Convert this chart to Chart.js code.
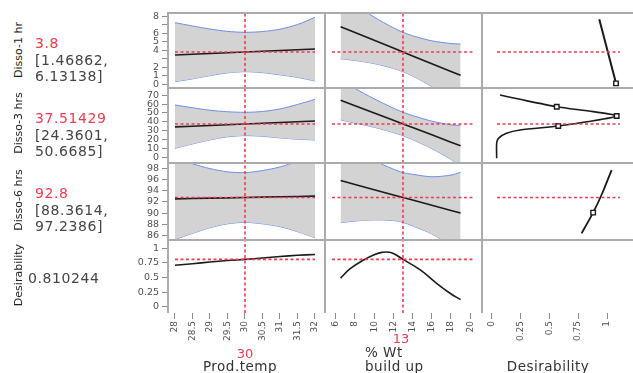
<!DOCTYPE html>
<html><head><meta charset="utf-8">
<script src="https://cdn.jsdelivr.net/npm/chart.js@4.4.1/dist/chart.umd.min.js"></script>
<style>
html,body{margin:0;padding:0;background:#fff;}
#wrap{position:relative;width:633px;height:373px;overflow:hidden;font-family:"DejaVu Sans",sans-serif;background:#fff;}
#wrap canvas{position:absolute;}
.t{position:absolute;white-space:nowrap;line-height:1;}
</style></head><body><div id="wrap"></div>
<script>
// ---------------- data ----------------
const CUR_TEMP = 30;
const CUR_WT = 13;
const CUR_D1 = 3.8;
const CUR_D3 = 37.51429;
const CUR_D6 = 92.8;
const CUR_DES = 0.810244;

const TEMP_X = [28, 28.5, 29, 29.5, 30, 30.5, 31, 31.5, 32];
const D1_TEMP_PRED = [3.45, 3.54, 3.62, 3.71, 3.80, 3.89, 3.97, 4.06, 4.15];
const D1_TEMP_UP   = [7.27, 6.88, 6.52, 6.24, 6.13, 6.22, 6.50, 7.05, 7.90];
const D1_TEMP_LO   = [0.28, 0.62, 1.00, 1.33, 1.47, 1.36, 1.10, 0.80, 0.37];
const D3_TEMP_PRED = [34.2, 35.0, 35.8, 36.7, 37.51, 38.3, 39.1, 40.0, 40.8];
const D3_TEMP_UP   = [58.9, 55.8, 53.0, 51.3, 50.67, 51.6, 54.5, 59.5, 65.3];
const D3_TEMP_LO   = [10.0, 15.0, 19.5, 23.0, 24.36, 23.6, 21.8, 20.3, 19.4];
const D6_TEMP_PRED = [92.55, 92.61, 92.68, 92.74, 92.8, 92.86, 92.93, 92.99, 93.05];
const D6_TEMP_UP   = [99.8, 98.82, 97.96, 97.38, 97.24, 97.62, 98.26, 99.28, 100.5];
const D6_TEMP_LO   = [85.3, 86.4, 87.4, 88.1, 88.36, 88.1, 87.6, 86.7, 85.6];
const DES_TEMP     = [0.71, 0.735, 0.765, 0.79, 0.81, 0.835, 0.86, 0.88, 0.895];

const WT_X = [6.5, 8, 10, 12, 13, 14, 16, 18, 19];
const D1_WT_PRED = [6.8, 6.1, 5.18, 4.26, 3.8, 3.34, 2.42, 1.5, 1.04];
const D1_WT_UP   = [10.6, 9.4, 7.93, 6.66, 6.13, 5.72, 5.12, 4.8, 4.74];
const D1_WT_LO   = [3.0, 2.8, 2.43, 1.86, 1.47, 0.96, -0.28, -1.8, -2.66];
const D3_WT_PRED = [64.2, 58.0, 49.8, 41.6, 37.51, 33.4, 25.2, 17.0, 12.9];
const D3_WT_UP   = [86.2, 77.5, 65.8, 55.4, 50.67, 47.0, 40.7, 36.5, 35.9];
const D3_WT_LO   = [42.2, 38.5, 33.8, 27.8, 24.36, 19.8, 9.7, -2.5, -10.1];
const D6_WT_PRED = [95.82, 95.12, 94.19, 93.26, 92.8, 92.34, 91.41, 90.48, 90.02];
const D6_WT_UP   = [103.3, 101.4, 99.4, 97.86, 97.24, 96.94, 96.5, 96.8, 97.3];
const D6_WT_LO   = [88.3, 88.6, 88.8, 88.7, 88.36, 87.74, 86.3, 84.2, 82.7];
const DES_WT_X   = [6.5, 7.5, 8.9, 10, 10.8, 11.8, 13, 14.8, 16.5, 17.9, 19];
const DES_WT     = [0.49, 0.65, 0.80, 0.89, 0.93, 0.925, 0.81, 0.63, 0.40, 0.23, 0.12];

// desirability functions (x = desirability, y = response)
const DF1_D = [0.933, 1.078];
const DF1_Y = [7.67, 0.09];
const DF1_HD = [1.078];
const DF1_HY = [0.09];
const DF3_D = [0.074, 0.247, 0.565, 0.88, 1.084, 0.824, 0.578, 0.247, 0.13, 0.06, 0.045, 0.045];
const DF3_Y = [70.2, 65.3, 57, 51.4, 46.5, 40, 35.2, 30.7, 27, 21.3, 15.7, -1.2];
const DF3_HD = [0.565, 1.084, 0.578];
const DF3_HY = [57, 46.5, 35.2];
const DF6_D = [0.78, 0.88, 0.96, 1.04];
const DF6_Y = [86.4, 90.1, 93.6, 97.7];
const DF6_HD = [0.88];
const DF6_HY = [90.1];

// reference-line extents
const TEMP_LINE_X = [28, 32];
const WT_LINE_X = [5.6, 20.3];
const DES_LINE_X = [0.048, 1.112];

// tick values / labels
const X1_TICKS = [28, 28.5, 29, 29.5, 30, 30.5, 31, 31.5, 32];
const X1_LABELS = ['28', '28.5', '29', '29.5', '30', '30.5', '31', '31.5', '32'];
const X2_TICKS = [6, 8, 10, 12, 14, 16, 18, 20];
const X2_LABELS = ['6', '8', '10', '12', '14', '16', '18', '20'];
const X3_TICKS = [0, 0.25, 0.5, 0.75, 1];
const X3_LABELS = ['0', '0.25', '0.5', '0.75', '1'];
const Y1_TICKS = [0, 1, 2, 3, 4, 5, 6, 7, 8];
const Y1_LABELS = ['0', '1', '2', '', '4', '5', '6', '', '8'];
const Y2_TICKS = [0, 10, 20, 30, 40, 50, 60, 70];
const Y2_LABELS = ['0', '10', '20', '30', '40', '50', '60', '70'];
const Y3_TICKS = [86, 88, 90, 92, 94, 96, 98];
const Y3_LABELS = ['86', '88', '90', '92', '94', '96', '98'];
const Y4_TICKS = [0, 0.25, 0.5, 0.75, 1];
const Y4_LABELS = ['0', '0.25', '0.5', '0.75', '1'];

const ROW_NAMES = ['Disso-1 hr', 'Disso-3 hrs', 'Disso-6 hrs', 'Desirability'];
const FACTOR_NAMES = ['Prod.temp', '% Wt', 'Desirability'];

// ---------------- layout / style ----------------
const COLS = [168, 325, 482, 633];
const ROWS = [13, 88, 163, 240, 313];
const PAD = 8, YW = 48, XH = 34;
const RED = '#ef3b52';
const GRAYBAND = '#d3d3d3';
const BLUE = '#6b8ee6';
const FRAME = '#ababab';
const TICKCOL = '#505050';

const AX = {
  x1: {min: 27.8, max: 32.286, ticks: X1_TICKS, labels: X1_LABELS},
  x2: {min: 4.875, max: 21.23, ticks: X2_TICKS, labels: X2_LABELS},
  x3: {min: -0.082, max: 1.225, ticks: X3_TICKS, labels: X3_LABELS},
  y1: {min: -0.46, max: 8.414, ticks: Y1_TICKS, labels: Y1_LABELS},
  y2: {min: -6.55, max: 78.1, ticks: Y2_TICKS, labels: Y2_LABELS},
  y3: {min: 85.21, max: 98.96, ticks: Y3_TICKS, labels: Y3_LABELS},
  y4: {min: -0.108, max: 1.142, ticks: Y4_TICKS, labels: Y4_LABELS}
};

Chart.defaults.font.family = '"DejaVu Sans", sans-serif';

const zip = (xs, ys) => xs.map((x, i) => ({x, y: ys[i]}));

const borderPlugin = {
  id: 'cellBorder',
  afterDraw(chart) {
    const {ctx, chartArea: a} = chart;
    ctx.save();
    ctx.strokeStyle = FRAME;
    ctx.lineWidth = 2;
    ctx.beginPath();
    ctx.moveTo(a.left - 1, a.top);
    ctx.lineTo(a.right + 1, a.top);
    ctx.moveTo(a.left, a.top);
    ctx.lineTo(a.left, a.bottom);
    ctx.stroke();
    ctx.restore();
  }
};

function scaleCfg(ax, show, horizontal) {
  const cfg = {
    type: 'linear', min: ax.min, max: ax.max, display: show,
    afterBuildTicks: s => { s.ticks = ax.ticks.map(v => ({value: v})); },
    grid: {display: true, drawOnChartArea: false, drawTicks: true, tickLength: 6, color: '#8c8c8c', lineWidth: 1},
    border: {display: false},
    ticks: {autoSkip: false, padding: 2, color: TICKCOL, font: {size: 9}, callback: (v, i) => ax.labels[i]}
  };
  if (horizontal) {
    cfg.ticks.minRotation = 90; cfg.ticks.maxRotation = 90;
    if (show) cfg.afterFit = s => { s.height = XH; s.paddingLeft = 0; s.paddingRight = 0; };
  } else {
    cfg.ticks.font = {size: 9.5};
    cfg.ticks.padding = 3;
    if (show) cfg.afterFit = s => { s.width = YW; s.paddingTop = 0; s.paddingBottom = 0; };
  }
  return cfg;
}

function band(xs, up, lo) {
  return [
    {data: zip(xs, up), borderColor: BLUE, borderWidth: 1, backgroundColor: GRAYBAND, fill: '+1', order: 3, tension: 0.3},
    {data: zip(xs, lo), borderColor: BLUE, borderWidth: 1, fill: false, order: 3, tension: 0.3}
  ];
}
function curve(xs, ys, w, tension) {
  return {data: zip(xs, ys), borderColor: '#1a1a1a', borderWidth: w || 1.6, fill: false, order: 2, tension: tension || 0};
}
function handles(xs, ys) {
  return {data: zip(xs, ys), showLine: false, pointRadius: 3.2, pointStyle: 'rect', pointBorderColor: '#1a1a1a', pointBackgroundColor: '#fff', pointBorderWidth: 1.4, order: 1};
}
function hLine(ext, v) {
  return {data: zip(ext, [v, v]), borderColor: RED, borderWidth: 1.6, borderDash: [3, 2.5], fill: false, order: 0};
}
function vLine(v, ax) {
  return {data: zip([v, v], [ax.min, ax.max]), borderColor: RED, borderWidth: 1.6, borderDash: [3, 2.5], fill: false, order: 0};
}

const wrap = document.getElementById('wrap');

function makeCell(r, c, xa, ya, datasets) {
  const showY = c === 0, showX = r === 3;
  const L = COLS[c], R = COLS[c + 1], T = ROWS[r], B = ROWS[r + 1];
  const left = L - PAD - (showY ? YW : 0);
  const top = T - PAD;
  const w = (R - L) + 2 * PAD + (showY ? YW : 0);
  const h = (B - T) + 2 * PAD + (showX ? XH : 0);
  const cv = document.createElement('canvas');
  cv.width = w; cv.height = h;
  cv.style.left = left + 'px'; cv.style.top = top + 'px';
  cv.style.width = w + 'px'; cv.style.height = h + 'px';
  wrap.appendChild(cv);
  datasets.forEach(d => { d.clip = 0; if (d.pointRadius === undefined) d.pointRadius = 0; });
  new Chart(cv, {
    type: 'line',
    data: {datasets},
    options: {
      responsive: false, animation: false, events: [],
      layout: {padding: PAD},
      plugins: {legend: {display: false}, tooltip: {enabled: false}},
      scales: {x: scaleCfg(xa, showX, true), y: scaleCfg(ya, showY, false)}
    },
    plugins: [borderPlugin]
  });
}

// Row 1: Disso-1 hr
makeCell(0, 0, AX.x1, AX.y1, [...band(TEMP_X, D1_TEMP_UP, D1_TEMP_LO), curve(TEMP_X, D1_TEMP_PRED), hLine(TEMP_LINE_X, CUR_D1), vLine(CUR_TEMP, AX.y1)]);
makeCell(0, 1, AX.x2, AX.y1, [...band(WT_X, D1_WT_UP, D1_WT_LO), curve(WT_X, D1_WT_PRED), hLine(WT_LINE_X, CUR_D1), vLine(CUR_WT, AX.y1)]);
makeCell(0, 2, AX.x3, AX.y1, [curve(DF1_D, DF1_Y, 2), handles(DF1_HD, DF1_HY), hLine(DES_LINE_X, CUR_D1)]);
// Row 2: Disso-3 hrs
makeCell(1, 0, AX.x1, AX.y2, [...band(TEMP_X, D3_TEMP_UP, D3_TEMP_LO), curve(TEMP_X, D3_TEMP_PRED), hLine(TEMP_LINE_X, CUR_D3), vLine(CUR_TEMP, AX.y2)]);
makeCell(1, 1, AX.x2, AX.y2, [...band(WT_X, D3_WT_UP, D3_WT_LO), curve(WT_X, D3_WT_PRED), hLine(WT_LINE_X, CUR_D3), vLine(CUR_WT, AX.y2)]);
makeCell(1, 2, AX.x3, AX.y2, [curve(DF3_D, DF3_Y, 1.6, 0.25), handles(DF3_HD, DF3_HY), hLine(DES_LINE_X, CUR_D3)]);
// Row 3: Disso-6 hrs
makeCell(2, 0, AX.x1, AX.y3, [...band(TEMP_X, D6_TEMP_UP, D6_TEMP_LO), curve(TEMP_X, D6_TEMP_PRED), hLine(TEMP_LINE_X, CUR_D6), vLine(CUR_TEMP, AX.y3)]);
makeCell(2, 1, AX.x2, AX.y3, [...band(WT_X, D6_WT_UP, D6_WT_LO), curve(WT_X, D6_WT_PRED), hLine(WT_LINE_X, CUR_D6), vLine(CUR_WT, AX.y3)]);
makeCell(2, 2, AX.x3, AX.y3, [curve(DF6_D, DF6_Y, 1.8, 0.2), handles(DF6_HD, DF6_HY), hLine(DES_LINE_X, CUR_D6)]);
// Row 4: Desirability
makeCell(3, 0, AX.x1, AX.y4, [curve(TEMP_X, DES_TEMP, 1.6, 0.3), hLine(TEMP_LINE_X, CUR_DES), vLine(CUR_TEMP, AX.y4)]);
makeCell(3, 1, AX.x2, AX.y4, [curve(DES_WT_X, DES_WT, 1.6, 0.4), hLine(WT_LINE_X, CUR_DES), vLine(CUR_WT, AX.y4)]);
makeCell(3, 2, AX.x3, AX.y4, []);

// ---------------- text ----------------
function addText(txt, x, y, css, anchor) {
  const d = document.createElement('div');
  d.className = 't';
  d.textContent = txt;
  Object.assign(d.style, css || {});
  d.style.left = x + 'px';
  d.style.top = y + 'px';
  d.style.transform = anchor || 'translate(0,-50%)';
  wrap.appendChild(d);
  return d;
}
const valCss = {fontSize: '14px', color: '#444', letterSpacing: '0.6px'};
const redCss = Object.assign({}, valCss, {color: RED});
const rowCss = {fontSize: '11px', color: '#222'};
const rowCenters = [50, 123, 200, 275];
ROW_NAMES.forEach((n, i) => addText(n, 18, rowCenters[i], rowCss, 'translate(-50%,-50%) rotate(-90deg)'));

addText(String(CUR_D1), 35, 43, redCss);
addText('[1.46862,', 35, 60, valCss);
addText('6.13138]', 35, 76, valCss);
addText(String(CUR_D3), 35, 118, redCss);
addText('[24.3601,', 35, 135, valCss);
addText('50.6685]', 35, 151, valCss);
addText(String(CUR_D6), 35, 193, redCss);
addText('[88.3614,', 35, 210, valCss);
addText('97.2386]', 35, 226, valCss);
addText(String(CUR_DES), 28, 278, valCss);

const titleCss = {fontSize: '13.5px', color: '#333', letterSpacing: '0.5px'};
addText(String(CUR_TEMP), 245, 353, {fontSize: '13px', color: RED}, 'translate(-50%,-50%)');
addText(FACTOR_NAMES[0], 240, 367, titleCss, 'translate(-50%,-50%)');
addText(String(CUR_WT), 401, 338, {fontSize: '13px', color: RED}, 'translate(-50%,-50%)');
addText(FACTOR_NAMES[1], 365, 353, titleCss);
addText('build up', 365, 367, titleCss);
addText(FACTOR_NAMES[2], 548, 367, titleCss, 'translate(-50%,-50%)');
</script>
</body></html>
